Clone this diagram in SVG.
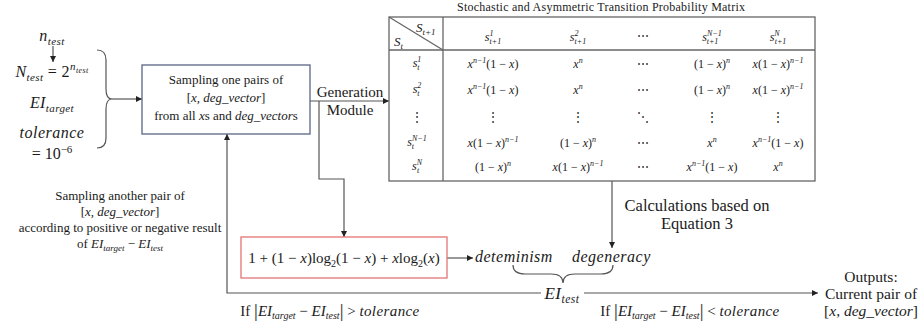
<svg xmlns="http://www.w3.org/2000/svg" width="924" height="328" viewBox="0 0 924 328" font-family="'Liberation Serif', 'DejaVu Serif', serif">
<style>
text{font-family:'Liberation Serif','DejaVu Serif',serif;fill:#1a1a1a}
.m{font-style:italic}
.u{font-style:normal}
.s{font-size:8px}
.tb{font-size:12px}
.ln{stroke:#555;stroke-width:1.2;fill:none}
.ar{marker-end:url(#ah)}
.tl{stroke:#666;stroke-width:1.3;fill:none}
</style>
<defs>
<marker id="ah" markerWidth="6" markerHeight="6" refX="6" refY="3" orient="auto" markerUnits="userSpaceOnUse">
<path d="M0,0 L6,3 L0,6 z" fill="#222"/>
</marker>
</defs>
<rect width="924" height="328" fill="#fff"/>

<g id="connectors">
<path class="ln ar" d="M53,46 V62"/>
<path class="ln" d="M97,50 Q106,50 106,60 L106,89 Q106,99 112,99 Q106,99 106,109 L106,138 Q106,148 97,148"/>
<path class="ln ar" d="M112,99 H142"/>
<path class="ln ar" d="M310,101 H389"/>
<path class="ln ar" d="M319,101 V179 H344 V237"/>
<path class="ln ar" d="M447,258 H473"/>
<path class="ln ar" d="M612,181 V248"/>
<path class="ln" d="M513,265 Q513,274 525,274 L551,274 Q563,274 563,283 Q563,274 575,274 L601,274 Q613,274 613,265"/>
<path class="ln ar" d="M541,293 H227 V134"/>
<path class="ln ar" d="M584,293 H818"/>
</g>

<g id="inputs">
<text class="m" x="52" y="41" text-anchor="middle" font-size="16" letter-spacing="0.4">n<tspan font-size="11" dy="4">test</tspan></text>
<text class="m" x="52" y="77" text-anchor="middle" font-size="16" letter-spacing="0.4">N<tspan font-size="11" dy="4">test</tspan><tspan class="u" dy="-4"> = 2</tspan><tspan font-size="11" dy="-7">n</tspan><tspan font-size="8" dy="3">test</tspan></text>
<text class="m" x="52" y="108" text-anchor="middle" font-size="16" letter-spacing="0.4">EI<tspan font-size="11" dy="4">target</tspan></text>
<text class="m" x="52" y="138" text-anchor="middle" font-size="16" letter-spacing="0.5">tolerance</text>
<text class="u" x="52" y="159" text-anchor="middle" font-size="16">= 10<tspan font-size="11" dy="-6">−6</tspan></text>
</g>

<g id="sampling">
<rect x="142" y="65" width="168" height="69" fill="#fff" stroke="#5a6685" stroke-width="1.3"/>
<text x="226" y="84" text-anchor="middle" font-size="13">Sampling one pairs of</text>
<text x="226" y="102" text-anchor="middle" font-size="13">[<tspan class="m">x, deg_vector</tspan>]</text>
<text x="226" y="120" text-anchor="middle" font-size="13">from all <tspan class="m">x</tspan>s and <tspan class="m">deg_vector</tspan>s</text>
</g>

<g id="generation-label">
<text x="350" y="97" text-anchor="middle" font-size="15">Generation</text>
<text x="350" y="115" text-anchor="middle" font-size="15">Module</text>
</g>

<g id="matrix">
<text x="601" y="11" text-anchor="middle" font-size="12" textLength="288">Stochastic and Asymmetric Transition Probability Matrix</text>
<rect class="tl" x="389" y="17" width="426" height="164"/>
<line class="tl" x1="389" y1="50" x2="815" y2="50"/>
<line class="tl" x1="443" y1="17" x2="443" y2="181"/>
<line class="tl" x1="389" y1="17" x2="443" y2="50" stroke-width="1"/>
<text class="m" x="416" y="32" font-size="13">S<tspan font-size="9" dy="3">t+1</tspan></text>
<text class="m" x="394" y="46" font-size="13">S<tspan font-size="9" dy="3">t</tspan></text>

<text class="m tb" x="493" y="41" text-anchor="middle">s<tspan class="s" dy="-5">1</tspan><tspan class="s" dx="-4" dy="8">t+1</tspan></text>
<text class="m tb" x="578" y="41" text-anchor="middle">s<tspan class="s" dy="-5">2</tspan><tspan class="s" dx="-4" dy="8">t+1</tspan></text>
<text class="tb" x="643" y="40" text-anchor="middle">⋯</text>
<text class="m tb" x="712" y="41" text-anchor="middle">s<tspan class="s" dy="-5">N−1</tspan><tspan class="s" dx="-15" dy="8">t+1</tspan></text>
<text class="m tb" x="778" y="41" text-anchor="middle">s<tspan class="s" dy="-5">N</tspan><tspan class="s" dx="-5" dy="8">t+1</tspan></text>

<text class="m tb" x="417" y="67" text-anchor="middle">s<tspan class="s" dy="-5">1</tspan><tspan class="s" dx="-4" dy="8">t</tspan></text>
<text class="m tb" x="493" y="68" text-anchor="middle">x<tspan class="s" dy="-5">n−1</tspan><tspan class="u" dy="5">(1 − </tspan>x<tspan class="u">)</tspan></text>
<text class="m tb" x="578" y="68" text-anchor="middle">x<tspan class="s" dy="-5">n</tspan></text>
<text class="tb" x="643" y="68" text-anchor="middle">⋯</text>
<text class="m tb" x="712" y="68" text-anchor="middle"><tspan class="u">(1 − </tspan>x<tspan class="u">)</tspan><tspan class="s" dy="-5">n</tspan></text>
<text class="m tb" x="778" y="68" text-anchor="middle">x<tspan class="u">(1 − </tspan>x<tspan class="u">)</tspan><tspan class="s" dy="-5">n−1</tspan></text>

<text class="m tb" x="417" y="93" text-anchor="middle">s<tspan class="s" dy="-5">2</tspan><tspan class="s" dx="-4" dy="8">t</tspan></text>
<text class="m tb" x="493" y="94" text-anchor="middle">x<tspan class="s" dy="-5">n−1</tspan><tspan class="u" dy="5">(1 − </tspan>x<tspan class="u">)</tspan></text>
<text class="m tb" x="578" y="94" text-anchor="middle">x<tspan class="s" dy="-5">n</tspan></text>
<text class="tb" x="643" y="94" text-anchor="middle">⋯</text>
<text class="m tb" x="712" y="94" text-anchor="middle"><tspan class="u">(1 − </tspan>x<tspan class="u">)</tspan><tspan class="s" dy="-5">n</tspan></text>
<text class="m tb" x="778" y="94" text-anchor="middle">x<tspan class="u">(1 − </tspan>x<tspan class="u">)</tspan><tspan class="s" dy="-5">n−1</tspan></text>

<text class="tb" x="417" y="121" text-anchor="middle">⋮</text>
<text class="tb" x="493" y="121" text-anchor="middle">⋮</text>
<text class="tb" x="578" y="121" text-anchor="middle">⋮</text>
<text class="tb" x="643" y="121" text-anchor="middle">⋱</text>
<text class="tb" x="712" y="121" text-anchor="middle">⋮</text>
<text class="tb" x="778" y="121" text-anchor="middle">⋮</text>

<text class="m tb" x="417" y="146" text-anchor="middle">s<tspan class="s" dy="-5">N−1</tspan><tspan class="s" dx="-15" dy="8">t</tspan></text>
<text class="m tb" x="493" y="147" text-anchor="middle">x<tspan class="u">(1 − </tspan>x<tspan class="u">)</tspan><tspan class="s" dy="-5">n−1</tspan></text>
<text class="m tb" x="578" y="147" text-anchor="middle"><tspan class="u">(1 − </tspan>x<tspan class="u">)</tspan><tspan class="s" dy="-5">n</tspan></text>
<text class="tb" x="643" y="147" text-anchor="middle">⋯</text>
<text class="m tb" x="712" y="147" text-anchor="middle">x<tspan class="s" dy="-5">n</tspan></text>
<text class="m tb" x="778" y="147" text-anchor="middle">x<tspan class="s" dy="-5">n−1</tspan><tspan class="u" dy="5">(1 − </tspan>x<tspan class="u">)</tspan></text>

<text class="m tb" x="417" y="170" text-anchor="middle">s<tspan class="s" dy="-5">N</tspan><tspan class="s" dx="-5" dy="8">t</tspan></text>
<text class="m tb" x="493" y="171" text-anchor="middle"><tspan class="u">(1 − </tspan>x<tspan class="u">)</tspan><tspan class="s" dy="-5">n</tspan></text>
<text class="m tb" x="578" y="171" text-anchor="middle">x<tspan class="u">(1 − </tspan>x<tspan class="u">)</tspan><tspan class="s" dy="-5">n−1</tspan></text>
<text class="tb" x="643" y="171" text-anchor="middle">⋯</text>
<text class="m tb" x="712" y="171" text-anchor="middle">x<tspan class="s" dy="-5">n−1</tspan><tspan class="u" dy="5">(1 − </tspan>x<tspan class="u">)</tspan></text>
<text class="m tb" x="778" y="171" text-anchor="middle">x<tspan class="s" dy="-5">n</tspan></text>
</g>

<g id="calc-label">
<text x="697" y="211" text-anchor="middle" font-size="16.5">Calculations based on</text>
<text x="697" y="229" text-anchor="middle" font-size="16.5">Equation 3</text>
</g>

<g id="resample-label">
<text x="120" y="200" text-anchor="middle" font-size="13">Sampling another pair of</text>
<text x="120" y="216" text-anchor="middle" font-size="13">[<tspan class="m">x, deg_vector</tspan>]</text>
<text x="120" y="232" text-anchor="middle" font-size="13">according to positive or negative result</text>
<text x="120" y="248" text-anchor="middle" font-size="13">of <tspan class="m">EI</tspan><tspan class="m" font-size="9" dy="3">target</tspan><tspan dy="-3"> − </tspan><tspan class="m">EI</tspan><tspan class="m" font-size="9" dy="3">test</tspan></text>
</g>

<g id="formula">
<rect x="241" y="237" width="206" height="41" fill="#fff" stroke="#e57373" stroke-width="1.3"/>
<text x="344" y="263" text-anchor="middle" font-size="15">1 + (1 − <tspan class="m">x</tspan>)log<tspan font-size="10" dy="4">2</tspan><tspan dy="-4">(1 − </tspan><tspan class="m">x</tspan>) + <tspan class="m">x</tspan>log<tspan font-size="10" dy="4">2</tspan><tspan dy="-4">(</tspan><tspan class="m">x</tspan>)</text>
</g>

<g id="determinism">
<text class="m" x="475" y="262" font-size="16" letter-spacing="0.5">deteminism</text>
</g>
<g id="degeneracy">
<text class="m" x="572" y="262" font-size="16" letter-spacing="0.5">degeneracy</text>
</g>
<g id="ei-test">
<text class="m" x="562" y="299" text-anchor="middle" font-size="17" letter-spacing="0.5">EI<tspan font-size="11.5" dy="4">test</tspan></text>
</g>

<g id="conditions">
<text x="330" y="316" text-anchor="middle" font-size="15">If <tspan font-size="19" dy="1">|</tspan><tspan class="m" dy="-1">EI</tspan><tspan class="m" font-size="10" dy="3">target</tspan><tspan dy="-3"> − </tspan><tspan class="m">EI</tspan><tspan class="m" font-size="10" dy="3">test</tspan><tspan font-size="19" dy="-2">|</tspan><tspan dy="-1"> &gt; </tspan><tspan class="m" letter-spacing="0.4">tolerance</tspan></text>
<text x="690" y="316" text-anchor="middle" font-size="15">If <tspan font-size="19" dy="1">|</tspan><tspan class="m" dy="-1">EI</tspan><tspan class="m" font-size="10" dy="3">target</tspan><tspan dy="-3"> − </tspan><tspan class="m">EI</tspan><tspan class="m" font-size="10" dy="3">test</tspan><tspan font-size="19" dy="-2">|</tspan><tspan dy="-1"> &lt; </tspan><tspan class="m" letter-spacing="0.4">tolerance</tspan></text>
</g>

<g id="outputs">
<text x="871" y="282" text-anchor="middle" font-size="15.5">Outputs:</text>
<text x="871" y="299" text-anchor="middle" font-size="15.5">Current pair of</text>
<text x="871" y="316" text-anchor="middle" font-size="15.5">[<tspan class="m">x, deg_vector</tspan>]</text>
</g>
</svg>
